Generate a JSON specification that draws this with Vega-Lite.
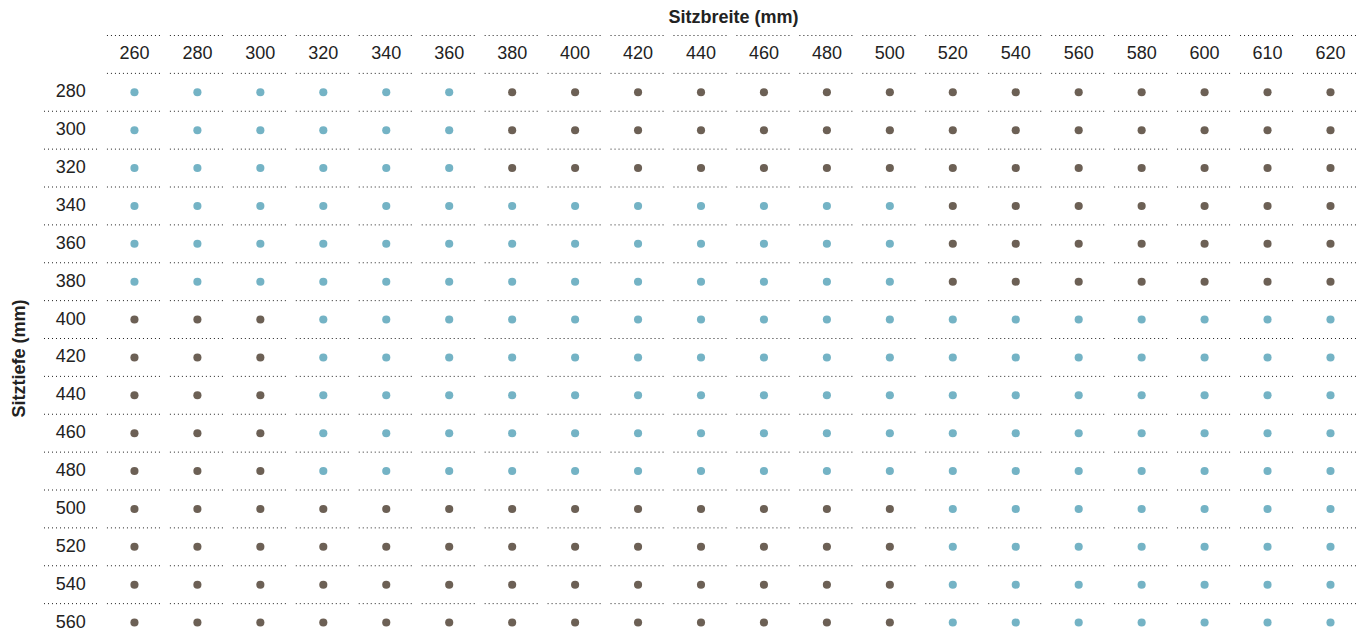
{
  "$schema": "https://vega.github.io/schema/vega-lite/v6.json",
  "width": 1314,
  "height": 606,
  "autosize": {"type": "none"},
  "padding": {"left": 44, "top": 35.5, "right": 9, "bottom": 0},
  "background": "white",
  "config": {
    "view": {"stroke": null},
    "font": "Liberation Sans"
  },
  "data": {
    "values": [
      {"breite":"260","tiefe":"280","passt":"ja"},{"breite":"280","tiefe":"280","passt":"ja"},{"breite":"300","tiefe":"280","passt":"ja"},{"breite":"320","tiefe":"280","passt":"ja"},{"breite":"340","tiefe":"280","passt":"ja"},{"breite":"360","tiefe":"280","passt":"ja"},{"breite":"380","tiefe":"280","passt":"nein"},{"breite":"400","tiefe":"280","passt":"nein"},{"breite":"420","tiefe":"280","passt":"nein"},{"breite":"440","tiefe":"280","passt":"nein"},{"breite":"460","tiefe":"280","passt":"nein"},{"breite":"480","tiefe":"280","passt":"nein"},{"breite":"500","tiefe":"280","passt":"nein"},{"breite":"520","tiefe":"280","passt":"nein"},{"breite":"540","tiefe":"280","passt":"nein"},{"breite":"560","tiefe":"280","passt":"nein"},{"breite":"580","tiefe":"280","passt":"nein"},{"breite":"600","tiefe":"280","passt":"nein"},{"breite":"610","tiefe":"280","passt":"nein"},{"breite":"620","tiefe":"280","passt":"nein"},
      {"breite":"260","tiefe":"300","passt":"ja"},{"breite":"280","tiefe":"300","passt":"ja"},{"breite":"300","tiefe":"300","passt":"ja"},{"breite":"320","tiefe":"300","passt":"ja"},{"breite":"340","tiefe":"300","passt":"ja"},{"breite":"360","tiefe":"300","passt":"ja"},{"breite":"380","tiefe":"300","passt":"nein"},{"breite":"400","tiefe":"300","passt":"nein"},{"breite":"420","tiefe":"300","passt":"nein"},{"breite":"440","tiefe":"300","passt":"nein"},{"breite":"460","tiefe":"300","passt":"nein"},{"breite":"480","tiefe":"300","passt":"nein"},{"breite":"500","tiefe":"300","passt":"nein"},{"breite":"520","tiefe":"300","passt":"nein"},{"breite":"540","tiefe":"300","passt":"nein"},{"breite":"560","tiefe":"300","passt":"nein"},{"breite":"580","tiefe":"300","passt":"nein"},{"breite":"600","tiefe":"300","passt":"nein"},{"breite":"610","tiefe":"300","passt":"nein"},{"breite":"620","tiefe":"300","passt":"nein"},
      {"breite":"260","tiefe":"320","passt":"ja"},{"breite":"280","tiefe":"320","passt":"ja"},{"breite":"300","tiefe":"320","passt":"ja"},{"breite":"320","tiefe":"320","passt":"ja"},{"breite":"340","tiefe":"320","passt":"ja"},{"breite":"360","tiefe":"320","passt":"ja"},{"breite":"380","tiefe":"320","passt":"nein"},{"breite":"400","tiefe":"320","passt":"nein"},{"breite":"420","tiefe":"320","passt":"nein"},{"breite":"440","tiefe":"320","passt":"nein"},{"breite":"460","tiefe":"320","passt":"nein"},{"breite":"480","tiefe":"320","passt":"nein"},{"breite":"500","tiefe":"320","passt":"nein"},{"breite":"520","tiefe":"320","passt":"nein"},{"breite":"540","tiefe":"320","passt":"nein"},{"breite":"560","tiefe":"320","passt":"nein"},{"breite":"580","tiefe":"320","passt":"nein"},{"breite":"600","tiefe":"320","passt":"nein"},{"breite":"610","tiefe":"320","passt":"nein"},{"breite":"620","tiefe":"320","passt":"nein"},
      {"breite":"260","tiefe":"340","passt":"ja"},{"breite":"280","tiefe":"340","passt":"ja"},{"breite":"300","tiefe":"340","passt":"ja"},{"breite":"320","tiefe":"340","passt":"ja"},{"breite":"340","tiefe":"340","passt":"ja"},{"breite":"360","tiefe":"340","passt":"ja"},{"breite":"380","tiefe":"340","passt":"ja"},{"breite":"400","tiefe":"340","passt":"ja"},{"breite":"420","tiefe":"340","passt":"ja"},{"breite":"440","tiefe":"340","passt":"ja"},{"breite":"460","tiefe":"340","passt":"ja"},{"breite":"480","tiefe":"340","passt":"ja"},{"breite":"500","tiefe":"340","passt":"ja"},{"breite":"520","tiefe":"340","passt":"nein"},{"breite":"540","tiefe":"340","passt":"nein"},{"breite":"560","tiefe":"340","passt":"nein"},{"breite":"580","tiefe":"340","passt":"nein"},{"breite":"600","tiefe":"340","passt":"nein"},{"breite":"610","tiefe":"340","passt":"nein"},{"breite":"620","tiefe":"340","passt":"nein"},
      {"breite":"260","tiefe":"360","passt":"ja"},{"breite":"280","tiefe":"360","passt":"ja"},{"breite":"300","tiefe":"360","passt":"ja"},{"breite":"320","tiefe":"360","passt":"ja"},{"breite":"340","tiefe":"360","passt":"ja"},{"breite":"360","tiefe":"360","passt":"ja"},{"breite":"380","tiefe":"360","passt":"ja"},{"breite":"400","tiefe":"360","passt":"ja"},{"breite":"420","tiefe":"360","passt":"ja"},{"breite":"440","tiefe":"360","passt":"ja"},{"breite":"460","tiefe":"360","passt":"ja"},{"breite":"480","tiefe":"360","passt":"ja"},{"breite":"500","tiefe":"360","passt":"ja"},{"breite":"520","tiefe":"360","passt":"nein"},{"breite":"540","tiefe":"360","passt":"nein"},{"breite":"560","tiefe":"360","passt":"nein"},{"breite":"580","tiefe":"360","passt":"nein"},{"breite":"600","tiefe":"360","passt":"nein"},{"breite":"610","tiefe":"360","passt":"nein"},{"breite":"620","tiefe":"360","passt":"nein"},
      {"breite":"260","tiefe":"380","passt":"ja"},{"breite":"280","tiefe":"380","passt":"ja"},{"breite":"300","tiefe":"380","passt":"ja"},{"breite":"320","tiefe":"380","passt":"ja"},{"breite":"340","tiefe":"380","passt":"ja"},{"breite":"360","tiefe":"380","passt":"ja"},{"breite":"380","tiefe":"380","passt":"ja"},{"breite":"400","tiefe":"380","passt":"ja"},{"breite":"420","tiefe":"380","passt":"ja"},{"breite":"440","tiefe":"380","passt":"ja"},{"breite":"460","tiefe":"380","passt":"ja"},{"breite":"480","tiefe":"380","passt":"ja"},{"breite":"500","tiefe":"380","passt":"ja"},{"breite":"520","tiefe":"380","passt":"nein"},{"breite":"540","tiefe":"380","passt":"nein"},{"breite":"560","tiefe":"380","passt":"nein"},{"breite":"580","tiefe":"380","passt":"nein"},{"breite":"600","tiefe":"380","passt":"nein"},{"breite":"610","tiefe":"380","passt":"nein"},{"breite":"620","tiefe":"380","passt":"nein"},
      {"breite":"260","tiefe":"400","passt":"nein"},{"breite":"280","tiefe":"400","passt":"nein"},{"breite":"300","tiefe":"400","passt":"nein"},{"breite":"320","tiefe":"400","passt":"ja"},{"breite":"340","tiefe":"400","passt":"ja"},{"breite":"360","tiefe":"400","passt":"ja"},{"breite":"380","tiefe":"400","passt":"ja"},{"breite":"400","tiefe":"400","passt":"ja"},{"breite":"420","tiefe":"400","passt":"ja"},{"breite":"440","tiefe":"400","passt":"ja"},{"breite":"460","tiefe":"400","passt":"ja"},{"breite":"480","tiefe":"400","passt":"ja"},{"breite":"500","tiefe":"400","passt":"ja"},{"breite":"520","tiefe":"400","passt":"ja"},{"breite":"540","tiefe":"400","passt":"ja"},{"breite":"560","tiefe":"400","passt":"ja"},{"breite":"580","tiefe":"400","passt":"ja"},{"breite":"600","tiefe":"400","passt":"ja"},{"breite":"610","tiefe":"400","passt":"ja"},{"breite":"620","tiefe":"400","passt":"ja"},
      {"breite":"260","tiefe":"420","passt":"nein"},{"breite":"280","tiefe":"420","passt":"nein"},{"breite":"300","tiefe":"420","passt":"nein"},{"breite":"320","tiefe":"420","passt":"ja"},{"breite":"340","tiefe":"420","passt":"ja"},{"breite":"360","tiefe":"420","passt":"ja"},{"breite":"380","tiefe":"420","passt":"ja"},{"breite":"400","tiefe":"420","passt":"ja"},{"breite":"420","tiefe":"420","passt":"ja"},{"breite":"440","tiefe":"420","passt":"ja"},{"breite":"460","tiefe":"420","passt":"ja"},{"breite":"480","tiefe":"420","passt":"ja"},{"breite":"500","tiefe":"420","passt":"ja"},{"breite":"520","tiefe":"420","passt":"ja"},{"breite":"540","tiefe":"420","passt":"ja"},{"breite":"560","tiefe":"420","passt":"ja"},{"breite":"580","tiefe":"420","passt":"ja"},{"breite":"600","tiefe":"420","passt":"ja"},{"breite":"610","tiefe":"420","passt":"ja"},{"breite":"620","tiefe":"420","passt":"ja"},
      {"breite":"260","tiefe":"440","passt":"nein"},{"breite":"280","tiefe":"440","passt":"nein"},{"breite":"300","tiefe":"440","passt":"nein"},{"breite":"320","tiefe":"440","passt":"ja"},{"breite":"340","tiefe":"440","passt":"ja"},{"breite":"360","tiefe":"440","passt":"ja"},{"breite":"380","tiefe":"440","passt":"ja"},{"breite":"400","tiefe":"440","passt":"ja"},{"breite":"420","tiefe":"440","passt":"ja"},{"breite":"440","tiefe":"440","passt":"ja"},{"breite":"460","tiefe":"440","passt":"ja"},{"breite":"480","tiefe":"440","passt":"ja"},{"breite":"500","tiefe":"440","passt":"ja"},{"breite":"520","tiefe":"440","passt":"ja"},{"breite":"540","tiefe":"440","passt":"ja"},{"breite":"560","tiefe":"440","passt":"ja"},{"breite":"580","tiefe":"440","passt":"ja"},{"breite":"600","tiefe":"440","passt":"ja"},{"breite":"610","tiefe":"440","passt":"ja"},{"breite":"620","tiefe":"440","passt":"ja"},
      {"breite":"260","tiefe":"460","passt":"nein"},{"breite":"280","tiefe":"460","passt":"nein"},{"breite":"300","tiefe":"460","passt":"nein"},{"breite":"320","tiefe":"460","passt":"ja"},{"breite":"340","tiefe":"460","passt":"ja"},{"breite":"360","tiefe":"460","passt":"ja"},{"breite":"380","tiefe":"460","passt":"ja"},{"breite":"400","tiefe":"460","passt":"ja"},{"breite":"420","tiefe":"460","passt":"ja"},{"breite":"440","tiefe":"460","passt":"ja"},{"breite":"460","tiefe":"460","passt":"ja"},{"breite":"480","tiefe":"460","passt":"ja"},{"breite":"500","tiefe":"460","passt":"ja"},{"breite":"520","tiefe":"460","passt":"ja"},{"breite":"540","tiefe":"460","passt":"ja"},{"breite":"560","tiefe":"460","passt":"ja"},{"breite":"580","tiefe":"460","passt":"ja"},{"breite":"600","tiefe":"460","passt":"ja"},{"breite":"610","tiefe":"460","passt":"ja"},{"breite":"620","tiefe":"460","passt":"ja"},
      {"breite":"260","tiefe":"480","passt":"nein"},{"breite":"280","tiefe":"480","passt":"nein"},{"breite":"300","tiefe":"480","passt":"nein"},{"breite":"320","tiefe":"480","passt":"ja"},{"breite":"340","tiefe":"480","passt":"ja"},{"breite":"360","tiefe":"480","passt":"ja"},{"breite":"380","tiefe":"480","passt":"ja"},{"breite":"400","tiefe":"480","passt":"ja"},{"breite":"420","tiefe":"480","passt":"ja"},{"breite":"440","tiefe":"480","passt":"ja"},{"breite":"460","tiefe":"480","passt":"ja"},{"breite":"480","tiefe":"480","passt":"ja"},{"breite":"500","tiefe":"480","passt":"ja"},{"breite":"520","tiefe":"480","passt":"ja"},{"breite":"540","tiefe":"480","passt":"ja"},{"breite":"560","tiefe":"480","passt":"ja"},{"breite":"580","tiefe":"480","passt":"ja"},{"breite":"600","tiefe":"480","passt":"ja"},{"breite":"610","tiefe":"480","passt":"ja"},{"breite":"620","tiefe":"480","passt":"ja"},
      {"breite":"260","tiefe":"500","passt":"nein"},{"breite":"280","tiefe":"500","passt":"nein"},{"breite":"300","tiefe":"500","passt":"nein"},{"breite":"320","tiefe":"500","passt":"nein"},{"breite":"340","tiefe":"500","passt":"nein"},{"breite":"360","tiefe":"500","passt":"nein"},{"breite":"380","tiefe":"500","passt":"nein"},{"breite":"400","tiefe":"500","passt":"nein"},{"breite":"420","tiefe":"500","passt":"nein"},{"breite":"440","tiefe":"500","passt":"nein"},{"breite":"460","tiefe":"500","passt":"nein"},{"breite":"480","tiefe":"500","passt":"nein"},{"breite":"500","tiefe":"500","passt":"nein"},{"breite":"520","tiefe":"500","passt":"ja"},{"breite":"540","tiefe":"500","passt":"ja"},{"breite":"560","tiefe":"500","passt":"ja"},{"breite":"580","tiefe":"500","passt":"ja"},{"breite":"600","tiefe":"500","passt":"ja"},{"breite":"610","tiefe":"500","passt":"ja"},{"breite":"620","tiefe":"500","passt":"ja"},
      {"breite":"260","tiefe":"520","passt":"nein"},{"breite":"280","tiefe":"520","passt":"nein"},{"breite":"300","tiefe":"520","passt":"nein"},{"breite":"320","tiefe":"520","passt":"nein"},{"breite":"340","tiefe":"520","passt":"nein"},{"breite":"360","tiefe":"520","passt":"nein"},{"breite":"380","tiefe":"520","passt":"nein"},{"breite":"400","tiefe":"520","passt":"nein"},{"breite":"420","tiefe":"520","passt":"nein"},{"breite":"440","tiefe":"520","passt":"nein"},{"breite":"460","tiefe":"520","passt":"nein"},{"breite":"480","tiefe":"520","passt":"nein"},{"breite":"500","tiefe":"520","passt":"nein"},{"breite":"520","tiefe":"520","passt":"ja"},{"breite":"540","tiefe":"520","passt":"ja"},{"breite":"560","tiefe":"520","passt":"ja"},{"breite":"580","tiefe":"520","passt":"ja"},{"breite":"600","tiefe":"520","passt":"ja"},{"breite":"610","tiefe":"520","passt":"ja"},{"breite":"620","tiefe":"520","passt":"ja"},
      {"breite":"260","tiefe":"540","passt":"nein"},{"breite":"280","tiefe":"540","passt":"nein"},{"breite":"300","tiefe":"540","passt":"nein"},{"breite":"320","tiefe":"540","passt":"nein"},{"breite":"340","tiefe":"540","passt":"nein"},{"breite":"360","tiefe":"540","passt":"nein"},{"breite":"380","tiefe":"540","passt":"nein"},{"breite":"400","tiefe":"540","passt":"nein"},{"breite":"420","tiefe":"540","passt":"nein"},{"breite":"440","tiefe":"540","passt":"nein"},{"breite":"460","tiefe":"540","passt":"nein"},{"breite":"480","tiefe":"540","passt":"nein"},{"breite":"500","tiefe":"540","passt":"nein"},{"breite":"520","tiefe":"540","passt":"ja"},{"breite":"540","tiefe":"540","passt":"ja"},{"breite":"560","tiefe":"540","passt":"ja"},{"breite":"580","tiefe":"540","passt":"ja"},{"breite":"600","tiefe":"540","passt":"ja"},{"breite":"610","tiefe":"540","passt":"ja"},{"breite":"620","tiefe":"540","passt":"ja"},
      {"breite":"260","tiefe":"560","passt":"nein"},{"breite":"280","tiefe":"560","passt":"nein"},{"breite":"300","tiefe":"560","passt":"nein"},{"breite":"320","tiefe":"560","passt":"nein"},{"breite":"340","tiefe":"560","passt":"nein"},{"breite":"360","tiefe":"560","passt":"nein"},{"breite":"380","tiefe":"560","passt":"nein"},{"breite":"400","tiefe":"560","passt":"nein"},{"breite":"420","tiefe":"560","passt":"nein"},{"breite":"440","tiefe":"560","passt":"nein"},{"breite":"460","tiefe":"560","passt":"nein"},{"breite":"480","tiefe":"560","passt":"nein"},{"breite":"500","tiefe":"560","passt":"nein"},{"breite":"520","tiefe":"560","passt":"ja"},{"breite":"540","tiefe":"560","passt":"ja"},{"breite":"560","tiefe":"560","passt":"ja"},{"breite":"580","tiefe":"560","passt":"ja"},{"breite":"600","tiefe":"560","passt":"ja"},{"breite":"610","tiefe":"560","passt":"ja"},{"breite":"620","tiefe":"560","passt":"ja"}
    ]
  },
  "layer": [
    {
      "mark": {"type": "point", "filled": true, "size": 66, "opacity": 1, "strokeWidth": 0},
      "encoding": {
        "x": {"field": "breite", "type": "ordinal",
              "scale": {"domain": ["lab","260","280","300","320","340","360","380","400","420","440","460","480","500","520","540","560","580","600","610","620"], "paddingInner": 0.126, "paddingOuter": 0},
              "axis": {"orient": "top", "title": "Sitzbreite (mm)", "labels": false, "ticks": false, "domain": true, "domainOpacity": 0, "grid": false,
                       "titleFont": "Liberation Sans", "titleFontSize": 18, "titleFontWeight": "bold", "titleColor": "#222",
                       "titleX": 689, "titleY": -13, "titleAlign": "center", "titleBaseline": "alphabetic", "titleAngle": 0}},
        "y": {"field": "tiefe", "type": "ordinal",
              "scale": {"domain": ["head","280","300","320","340","360","380","400","420","440","460","480","500","520","540","560"], "paddingInner": 0, "paddingOuter": 0},
              "axis": {"orient": "left", "title": "Sitztiefe (mm)", "labels": false, "ticks": false, "domain": true, "domainOpacity": 0, "grid": false,
                       "titleFont": "Liberation Sans", "titleFontSize": 18, "titleFontWeight": "bold", "titleColor": "#222",
                       "titleX": -20, "titleY": 322.5, "titleAlign": "center", "titleBaseline": "alphabetic", "titleAngle": 270}},
        "color": {"field": "passt", "type": "nominal", "legend": null,
                  "scale": {"domain": ["ja", "nein"], "range": ["#74b3c5", "#6c6055"]}}
      }
    },
    {
      "mark": {"type": "rule", "stroke": "#222", "strokeWidth": 1, "strokeDash": [1, 3]},
      "encoding": {
        "x": {"field": "breite", "type": "ordinal", "bandPosition": 0},
        "x2": {"field": "breite", "bandPosition": 1},
        "y": {"field": "tiefe", "type": "ordinal", "bandPosition": 0}
      }
    },
    {
      "transform": [{"filter": "datum.tiefe === '280'"}],
      "mark": {"type": "rule", "stroke": "#222", "strokeWidth": 1, "strokeDash": [1, 3]},
      "encoding": {
        "x": {"field": "breite", "type": "ordinal", "bandPosition": 0},
        "x2": {"field": "breite", "bandPosition": 1},
        "y": {"datum": "head", "type": "ordinal", "bandPosition": 0}
      }
    },
    {
      "transform": [{"filter": "datum.breite === '260' && datum.tiefe !== '280'"}],
      "mark": {"type": "rule", "stroke": "#222", "strokeWidth": 1, "strokeDash": [1, 3]},
      "encoding": {
        "x": {"datum": "lab", "type": "ordinal", "bandPosition": 0},
        "x2": {"datum": "lab", "bandPosition": 1},
        "y": {"field": "tiefe", "type": "ordinal", "bandPosition": 0}
      }
    },
    {
      "transform": [{"filter": "datum.tiefe === '280'"}],
      "mark": {"type": "text", "font": "Liberation Sans", "fontSize": 18, "color": "#222", "baseline": "middle", "align": "center"},
      "encoding": {
        "x": {"field": "breite", "type": "ordinal"},
        "y": {"datum": "head", "type": "ordinal"},
        "text": {"field": "breite"}
      }
    },
    {
      "transform": [{"filter": "datum.breite === '260'"}],
      "mark": {"type": "text", "font": "Liberation Sans", "fontSize": 18, "color": "#222", "baseline": "middle", "align": "right"},
      "encoding": {
        "x": {"datum": "lab", "type": "ordinal", "bandPosition": 0.76},
        "y": {"field": "tiefe", "type": "ordinal"},
        "text": {"field": "tiefe"}
      }
    }
  ]
}
